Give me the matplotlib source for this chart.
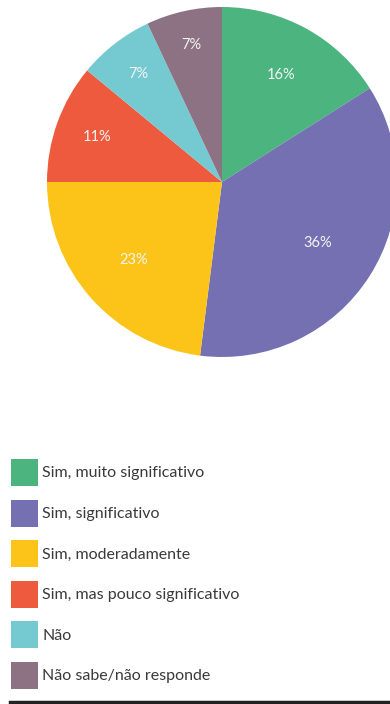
import numpy as np
import matplotlib.pyplot as plt

categories = ["Sim, muito significativo", "Sim, significativo", "Sim, moderadamente",
              "Sim, mas pouco significativo", "Não", "Não sabe/não responde"]
values = [16, 36, 23, 11, 7, 7]
colors = ["#4bb47f", "#7570b1", "#fcc419", "#ee5a3d", "#75c9d0", "#8d7283"]

# radial position of each percentage label (fraction of radius)
label_dist = [0.70, 0.65, 0.67, 0.76, 0.78, 0.80]

plt.rcParams['font.family'] = ['Lato', 'DejaVu Sans']

W, H = 390, 704
fig = plt.figure(figsize=(W / 100, H / 100), dpi=100)

# pie axes placed in pixel units
cx, cy, r = 222, 182, 175
ax = fig.add_axes([(cx - r) / W, 1 - (cy + r) / H, 2 * r / W, 2 * r / H])
wedges, texts, autotexts = ax.pie(values, colors=colors, startangle=90, counterclock=False,
                                  autopct=lambda p: "%d%%" % round(p),
                                  wedgeprops=dict(linewidth=0),
                                  textprops=dict(color="#f4f4f4", fontsize=10.5))
for w, t, d in zip(wedges, autotexts, label_dist):
    ang = np.deg2rad((w.theta1 + w.theta2) / 2)
    t.set_position((d * np.cos(ang), d * np.sin(ang)))
ax.set_xlim(-1, 1)
ax.set_ylim(-1, 1)
ax.set_aspect("equal")
ax.axis("off")

fs = 11.5
px = fs * 100 / 72  # font size in pixels
leg = fig.legend(wedges, categories, loc="upper left",
                 bbox_to_anchor=(11 / W, 1 - 459 / H), frameon=False,
                 fontsize=fs, handlelength=27 / px, handleheight=27 / (0.76 * px),
                 labelspacing=13.5 / px, handletextpad=4 / px, borderpad=0, borderaxespad=0)
for t in leg.get_texts():
    t.set_color("#3a3a3a")

# rule at the bottom
fig.add_artist(plt.Line2D([10 / W, 1], [1 - 702 / H] * 2, color="#222222", lw=2.5))

fig.savefig("out.png", dpi=100)
